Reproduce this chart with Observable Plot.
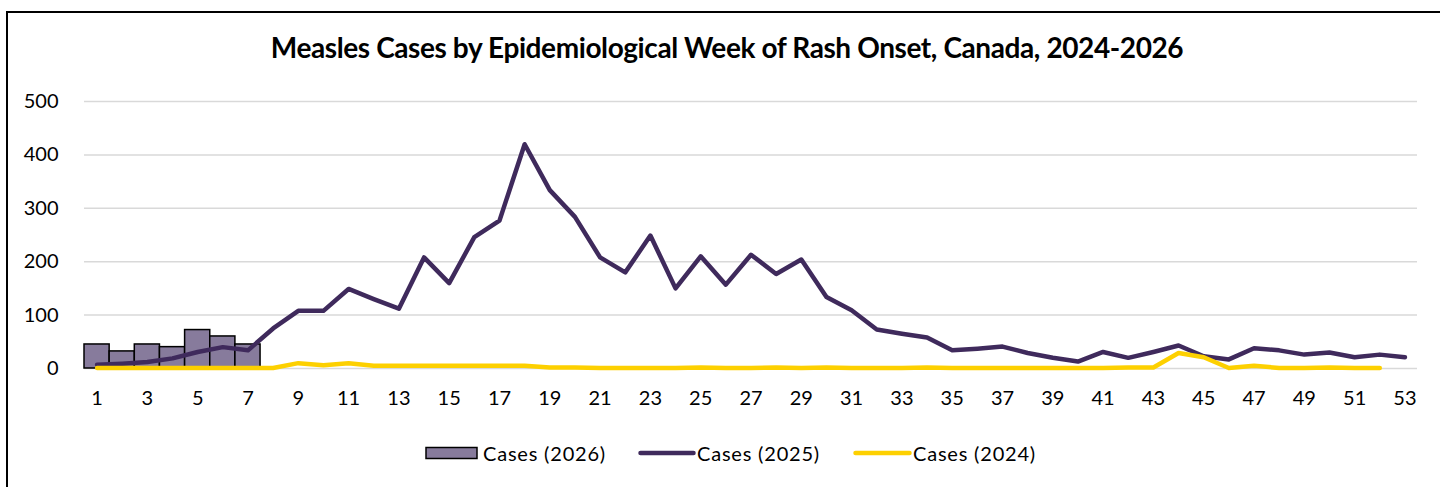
<!DOCTYPE html>
<html><head><meta charset="utf-8">
<script src="https://cdn.jsdelivr.net/npm/d3@7"></script>
<script src="https://cdn.jsdelivr.net/npm/@observablehq/plot@0.6"></script>
<style>
body{margin:0;background:#fff;width:1440px;height:487px;overflow:hidden;position:relative;font-family:Lato,"Open Sans",sans-serif;color:#000}
#frame{position:absolute;left:6px;top:11px;width:1440px;height:480px;border-top:2px solid #000;border-left:2px solid #000;box-sizing:border-box}
#title{position:absolute;left:0;width:1454px;top:30px;text-align:center;font-weight:700;font-size:28px;letter-spacing:-0.4px;white-space:nowrap}
#chart{position:absolute;left:0;top:0}
#legend{position:absolute;left:0;top:0;width:1440px;height:487px;font-size:20px;letter-spacing:0.8px}
.sw{position:absolute}
.lt{position:absolute;top:440px;line-height:26px;white-space:nowrap}
</style></head>
<body>
<div id="frame"></div>
<div id="chart"></div>
<div id="title">Measles Cases by Epidemiological Week of Rash Onset, Canada, 2024-2026</div>
<div id="legend"></div>
<script>
const weeks = [1,2,3,4,5,6,7,8,9,10,11,12,13,14,15,16,17,18,19,20,21,22,23,24,25,26,27,28,29,30,31,32,33,34,35,36,37,38,39,40,41,42,43,44,45,46,47,48,49,50,51,52,53];
const xTickLabels = [1,3,5,7,9,11,13,15,17,19,21,23,25,27,29,31,33,35,37,39,41,43,45,47,49,51,53];
const yTickLabels = [0,100,200,300,400,500];
const cases2026 = [45,32,45,40,72,60,45];
const cases2025 = [7,9,12,19,31,40,34,75,108,108,149,130,112,208,160,246,277,420,334,284,208,180,249,150,210,157,213,177,204,134,109,73,65,58,34,37,41,29,20,13,31,20,31,43,23,17,38,34,26,30,21,26,21];
const cases2024 = [1,1,1,1,1,1,1,1,10,6,10,5,5,5,5,5,5,5,2,2,1,1,1,1,2,1,1,2,1,2,1,1,1,2,1,1,1,1,1,1,1,2,2,29,21,1,5,1,1,2,1,1];
const seriesNames = ["Cases (2026)","Cases (2025)","Cases (2024)"];
const colors = {bar:"#877b9c", l2025:"#3f2a5c", l2024:"#fdd000"};

const d2026 = cases2026.map((v,i)=>({week:weeks[i], cases:v}));
const d2025 = cases2025.map((v,i)=>({week:weeks[i], cases:v}));
const d2024 = cases2024.map((v,i)=>({week:weeks[i], cases:v}));

const chart = Plot.plot({
  width:1440, height:410,
  marginTop:101, marginBottom:42, marginLeft:84, marginRight:23,
  style:{fontFamily:"Lato, 'Open Sans', sans-serif", fontSize:"20px", color:"#000", background:"transparent"},
  x:{type:"linear", domain:[0.5,53.5], ticks:xTickLabels, tickFormat:d=>String(d), tickSize:0, tickPadding:22, label:null},
  y:{domain:[0,500], ticks:yTickLabels, tickSize:0, tickPadding:26, label:null},
  marks:[
    Plot.gridY(yTickLabels,{stroke:"#d9d9d9", strokeOpacity:1, strokeWidth:1.5}),
    Plot.rectY(d2026,{x1:d=>d.week-0.5, x2:d=>d.week+0.5, y:"cases", fill:colors.bar, stroke:"#000", strokeWidth:1.5}),
    Plot.line(d2025,{x:"week", y:"cases", stroke:colors.l2025, strokeWidth:4.5, strokeLinejoin:"round", strokeLinecap:"round"}),
    Plot.line(d2024,{x:"week", y:"cases", stroke:colors.l2024, strokeWidth:4.5, strokeLinejoin:"round", strokeLinecap:"round"})
  ]
});
document.getElementById("chart").appendChild(chart);

const legend = document.getElementById("legend");
const legendLayout = [
  {sw:`<svg class="sw" style="left:425px;top:446px" width="53" height="14"><rect x="1" y="1.5" width="51" height="11" fill="${colors.bar}" stroke="#000" stroke-width="1.5"/></svg>`, tx:483},
  {sw:`<svg class="sw" style="left:638px;top:446px" width="58" height="14"><line x1="2.5" y1="7" x2="55.5" y2="7" stroke="${colors.l2025}" stroke-width="4.5" stroke-linecap="round"/></svg>`, tx:697},
  {sw:`<svg class="sw" style="left:853px;top:446px" width="59" height="14"><line x1="2.5" y1="7" x2="56.5" y2="7" stroke="${colors.l2024}" stroke-width="4.5" stroke-linecap="round"/></svg>`, tx:913}
];
seriesNames.forEach((n,i)=>{
  legend.insertAdjacentHTML("beforeend", legendLayout[i].sw + `<span class="lt" style="left:${legendLayout[i].tx}px">${n}</span>`);
});
</script>
</body></html>
